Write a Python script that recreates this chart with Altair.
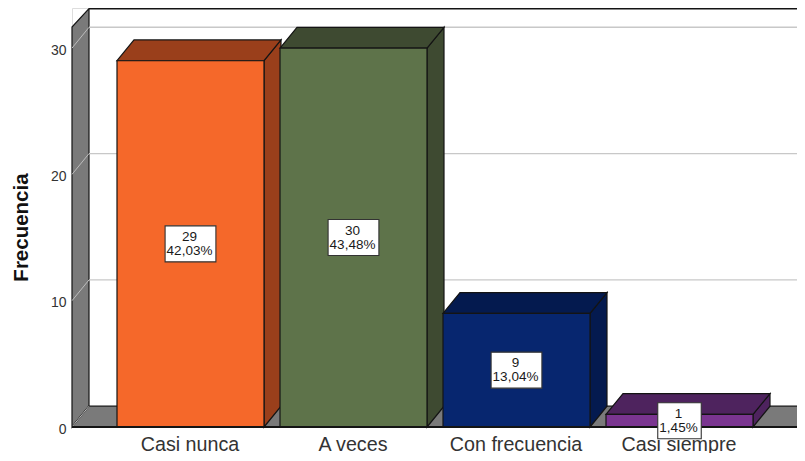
import json
import altair as alt
import pandas as pd

categories = ["Casi nunca", "A veces", "Con frecuencia", "Casi siempre"]
values = [29, 30, 9, 1]
percents = ["42,03%", "43,48%", "13,04%", "1,45%"]
front_colors = ["#F5682A", "#5E734A", "#07266F", "#7A3590"]
dark_colors = ["#9A3F1B", "#3E4A31", "#041A4F", "#4E235E"]
y_ticks = [0, 10, 20, 30]

PX_X = 163.0          # pixels per category step
PX_Y = 12.63          # pixels per frequency unit
HALF = 73.5 / PX_X    # half bar width
DX = 17 / PX_X        # depth in x units
DY = 20.8 / PX_Y      # depth in y units
X0 = -118.5 / PX_X
X1 = X0 + 725 / PX_X
Y1 = 419 / PX_Y
WALL_TOP = 31.67
WALL_BACK = Y1 - 0.05
EDGE = "#141414"
WALL = "#7A7A7A"
FLOOR_END = X1 + 1 / PX_X

xs = alt.Scale(domain=[X0, X1], nice=False, zero=False)
ys = alt.Scale(domain=[0, Y1], nice=False, zero=False)

ax_x = alt.Axis(
    values=[0, 1, 2, 3], grid=False, ticks=False, domain=False,
    labelExpr=json.dumps(categories) + "[datum.value]",
    labelFont="Liberation Sans", labelFontSize=19.7, labelColor="#333333",
    labelPadding=7, labelOffset=-1, labelFlush=False, labelOverlap=False, title=None,
)
ax_y = alt.Axis(
    values=y_ticks, grid=False, ticks=False, domain=False,
    labelFont="Liberation Sans", labelFontSize=14, labelColor="#333333",
    labelPadding=6, labelOffset=2, title="Frecuencia",
    titleFont="Liberation Sans", titleFontSize=20.5, titleFontWeight="bold",
    titleColor="#111111", titleAngle=270, titleX=-51, titleY=219,
    titleAlign="center", titleBaseline="middle",
)


def X(f):
    return alt.X(f, scale=xs, axis=ax_x)


def Y(f):
    return alt.Y(f, scale=ys, axis=ax_y, stack=None)


def polygons(rows, clip=False):
    df = pd.DataFrame(rows, columns=["face", "x", "lo", "hi", "fill"])
    return alt.Chart(df).mark_area(stroke=EDGE, strokeWidth=1.2, clip=clip).encode(
        x=X("x:Q"), y=Y("lo:Q"), y2="hi:Q",
        fill=alt.Fill("fill:N", scale=None),
        detail="face:N",
    )


wall_rows = [
    ("w", X0, 0, WALL_TOP, WALL),
    ("w", X0 + DX, DY, WALL_BACK, WALL),
]
floor_rows = [
    ("f", X0, 0, 0, WALL),
    ("f", X0 + DX, 0, DY, WALL),
    ("f", FLOOR_END, 0, DY, WALL),
    ("f", FLOOR_END + DX, DY, DY, WALL),
]

grid_df = pd.DataFrame({"v": y_ticks[1:], "x": X0 + DX, "x2": X1})
grid_df["yb"] = grid_df["v"] + DY
grid = alt.Chart(grid_df).mark_rule(color="#C8C8C8", strokeWidth=1.4).encode(
    x=X("x:Q"), x2="x2:Q", y=Y("yb:Q"),
)

diag_rows = []
for v in y_ticks:
    diag_rows.append({"v": v, "x": X0, "y": v})
    diag_rows.append({"v": v, "x": X0 + DX, "y": v + DY})
diag = alt.Chart(pd.DataFrame(diag_rows)).mark_line(color="#BDBDBD", strokeWidth=1).encode(
    x=X("x:Q"), y=Y("y:Q"), detail="v:N",
)

top_line = alt.Chart(pd.DataFrame({"x": [X0 + DX], "x2": [X1], "y": [WALL_BACK]})).mark_rule(
    color=EDGE, strokeWidth=1.6
).encode(x=X("x:Q"), x2="x2:Q", y=Y("y:Q"))
base_line = alt.Chart(pd.DataFrame({"x": [X0], "x2": [X1], "y": [0]})).mark_rule(
    color=EDGE, strokeWidth=1.8
).encode(x=X("x:Q"), x2="x2:Q", y=Y("y:Q"))

layers = [polygons(wall_rows), polygons(floor_rows, clip=True), grid, diag, top_line]
for i, (v, fc, dc) in enumerate(zip(values, front_colors, dark_colors)):
    l, r = i - HALF, i + HALF
    layers.append(polygons([
        ("s", r, 0, v, dc),
        ("s", r + DX, DY, v + DY, dc),
    ]))
    layers.append(polygons([
        ("t", l, v, v, dc),
        ("t", l + DX, v, v + DY, dc),
        ("t", r, v, v + DY, dc),
        ("t", r + DX, v + DY, v + DY, dc),
    ]))
    front = pd.DataFrame({"x": [l], "x2": [r], "y": [0], "y2": [v], "fill": [fc]})
    layers.append(alt.Chart(front).mark_rect(stroke=EDGE, strokeWidth=1.2).encode(
        x=X("x:Q"), x2="x2:Q", y=Y("y:Q"), y2="y2:Q",
        fill=alt.Fill("fill:N", scale=None),
    ))
layers.append(base_line)

lab = pd.DataFrame({"i": range(4), "v": values, "p": percents})
lab["mid"] = lab["v"] / 2
lab["hw"] = (lab["p"].str.len() * 7.3 + 7) / 2 / PX_X
lab["xa"] = lab["i"] - lab["hw"]
lab["xb"] = lab["i"] + lab["hw"]
lab["ya"] = lab["mid"] - 18 / PX_Y
lab["yb"] = lab["mid"] + 18 / PX_Y
layers.append(alt.Chart(lab).mark_rect(fill="white", stroke="#333333", strokeWidth=1.1).encode(
    x=X("xa:Q"), x2="xb:Q", y=Y("ya:Q"), y2="yb:Q",
))
for fld, dy in (("v", -7), ("p", 7)):
    layers.append(alt.Chart(lab).mark_text(
        font="Liberation Sans", fontSize=13.5, color="#1a1a1a", dy=dy, dx=-1
    ).encode(
        x=X("i:Q"), y=Y("mid:Q"), text=alt.Text(f"{fld}:N"),
    ))

chart = alt.layer(*layers).properties(
    width=725, height=419,
    padding={"left": 64, "top": 0, "right": 0, "bottom": 26},
    autosize=alt.AutoSizeParams(type="none"),
).configure_view(stroke=None).configure(background="white")

chart.save("out.html", embed_options={"renderer": "svg", "actions": False})
